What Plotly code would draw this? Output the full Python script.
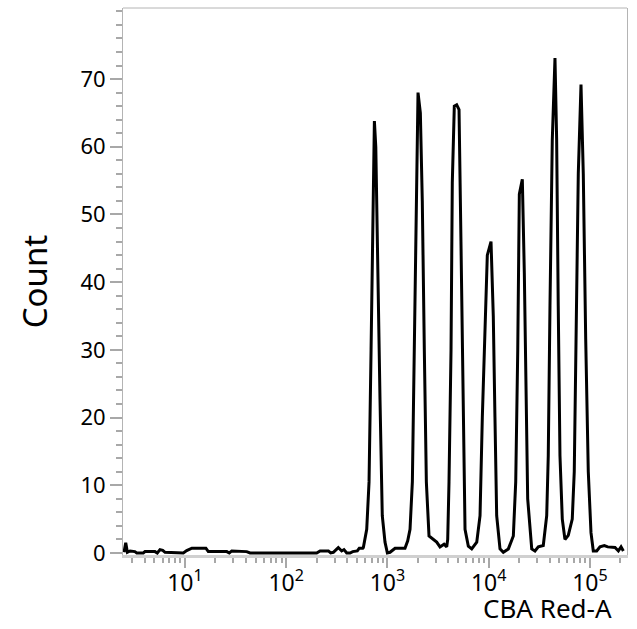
import plotly.graph_objects as go

# Histogram trace (CBA Red-A intensity vs count)
intensity = [2.5, 2.6, 2.7, 2.87, 3.2, 3.34, 3.88, 4.03, 5.06, 5.33, 5.67, 6.03, 6.36, 7.98,
             9.64, 10.4, 11.7, 16.1, 17.0, 25.9, 27.4, 29.0, 40.7, 43.9, 200, 216, 261, 275,
             292, 327, 353, 372, 396, 427, 454, 504, 527, 570,
             578, 624, 658, 689, 726, 743, 767, 803, 844, 889, 946, 998, 1060, 1189, 1490,
             1585, 1671, 1762, 1843, 1929, 2004, 2113, 2209, 2313, 2422, 2573, 2838, 3064,
             3303, 3622, 3848, 3936, 4055, 4246, 4370, 4575, 4830, 5093, 5333, 5574, 5836,
             6292, 6797, 7621, 8210, 8650, 9190, 9690, 10540, 11100, 11530, 11990, 12930,
             13940, 15630, 17510, 18490, 19360, 20070, 21480, 22480, 23350, 24270, 26600,
             28650, 30900, 34600, 37400, 38760, 40300, 42460, 45150, 46900, 48630, 50560,
             53320, 56640, 61100, 66880, 70000, 72770, 76710, 81600, 85960, 90800, 96300,
             102400, 107900, 116600, 125700, 138700, 149800, 177000, 190800, 202900, 213800]
counts = [0.1, 1.5, 0.1, 0.3, 0.2, 0.0, 0.0, 0.2, 0.2, 0.0, 0.5, 0.4, 0.1, 0.0,
          0.0, 0.35, 0.7, 0.7, 0.2, 0.2, 0.0, 0.3, 0.2, 0.0, 0.0, 0.3, 0.3, 0.0,
          0.1, 0.8, 0.3, 0.5, 0.0, 0.0, 0.2, 0.3, 0.7, 0.7,
          0.8, 3.5, 10.5, 30.0, 54.7, 63.8, 60.0, 44.8, 22.7, 5.5, 1.6, 0.0, 0.1, 0.7, 0.7,
          1.8, 3.5, 10.5, 30.0, 54.7, 68.0, 65.0, 52.0, 30.0, 10.5, 2.5, 2.0, 1.6,
          0.9, 1.3, 0.9, 2.0, 10.5, 30.0, 54.7, 66.0, 66.2, 65.5, 45.0, 20.0, 3.5,
          1.0, 0.6, 1.6, 5.5, 20.0, 35.0, 44.0, 46.0, 35.0, 20.0, 5.5, 0.6,
          0.1, 0.6, 2.5, 10.5, 30.0, 53.0, 55.2, 41.4, 21.7, 8.0, 0.6,
          0.3, 0.9, 1.1, 5.5, 14.4, 36.5, 61.0, 73.1, 61.0, 36.5, 14.4,
          5.0, 2.0, 2.6, 5.0, 12.0, 31.6, 56.0, 69.2, 56.0, 31.6, 12.0,
          3.0, 0.3, 0.3, 0.9, 1.1, 0.9, 0.8, 0.3, 0.9, 0.3]

x_tick_vals = [10, 100, 1000, 10000, 100000]
x_tick_text = ["10<sup>1</sup>", "10<sup>2</sup>", "10<sup>3</sup>", "10<sup>4</sup>", "10<sup>5</sup>"]
x_minor_vals = [m * d for d in [1, 10, 100, 1000, 10000, 100000] for m in range(2, 10)]
y_tick_vals = [0, 10, 20, 30, 40, 50, 60, 70]

FONT = "Noto Sans"
TICKC = "#a8a8a8"

fig = go.Figure(go.Scatter(x=intensity, y=counts, mode="lines",
                           line=dict(color="black", width=3), hoverinfo="skip"))

fig.update_layout(
    width=637, height=629,
    margin=dict(l=123, r=10, t=8, b=74, autoexpand=False),
    paper_bgcolor="white", plot_bgcolor="white",
    showlegend=False,
    font=dict(family=FONT, color="black"),
    xaxis=dict(type="log", range=[0.388, 5.366], automargin=False,
               tickmode="array", tickvals=x_tick_vals, ticktext=x_tick_text,
               ticks="outside", ticklen=10, tickwidth=2, tickcolor=TICKC,
               minor=dict(tickmode="array", tickvals=x_minor_vals, ticks="outside",
                          ticklen=5, tickwidth=2, tickcolor=TICKC),
               showline=True, linecolor="#d0d0d0", linewidth=3,
               showgrid=False, zeroline=False, ticklabelstandoff=-5,
               tickfont=dict(size=23, family=FONT, color="black")),
    yaxis=dict(range=[-0.3, 80.5], automargin=False,
               tickmode="array", tickvals=y_tick_vals,
               ticks="outside", ticklen=12, tickwidth=2, tickcolor=TICKC,
               minor=dict(dtick=2, ticks="outside", ticklen=6, tickwidth=2, tickcolor=TICKC),
               showline=True, linecolor="#b4b4b4", linewidth=1, mirror=True,
               showgrid=False, zeroline=False,
               tickfont=dict(size=22, family=FONT, color="black"),
               title=dict(text="Count", font=dict(size=33, family=FONT, color="black"), standoff=22)),
    shapes=[dict(type="line", xref="paper", yref="paper", x0=0, x1=1, y0=1, y1=1,
                 line=dict(color="#b4b4b4", width=1))],
    annotations=[dict(text="CBA Red-A", xref="paper", yref="paper", x=0.974, y=-0.097,
                      xanchor="right", yanchor="middle", showarrow=False,
                      font=dict(size=26, family=FONT, color="black"))],
)

fig.write_html("out.html", config={"displayModeBar": False},
               post_script="document.body.style.margin='0px';")
